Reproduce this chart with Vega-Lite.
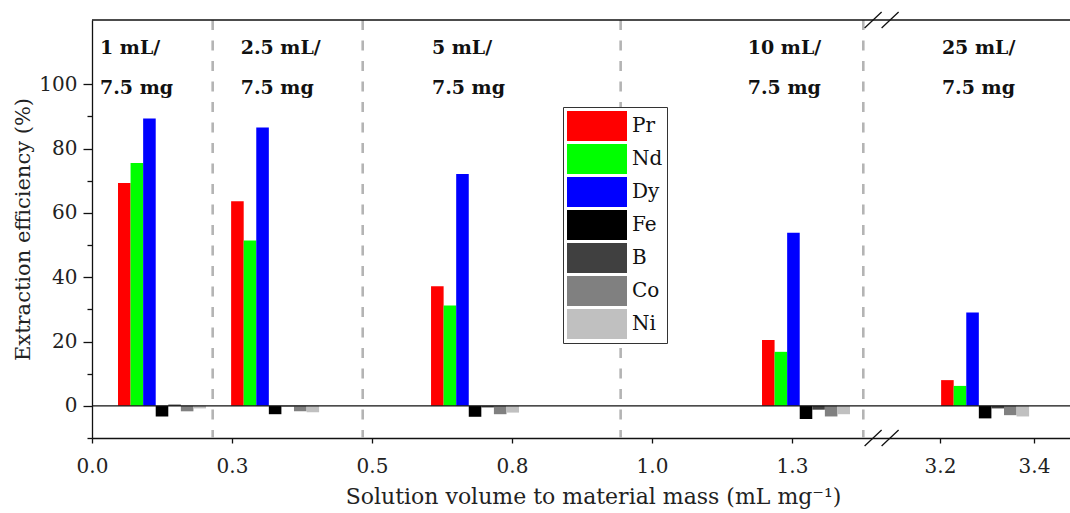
{
  "$schema": "https://vega.github.io/schema/vega-lite/v6.json",
  "width": 978,
  "height": 418,
  "autosize": {"type": "none"},
  "padding": {"left": 92, "top": 20, "right": 0, "bottom": 75},
  "background": "white",
  "config": {
    "view": {"stroke": null},
    "font": "DejaVu Serif",
    "axis": {
      "labelFont": "DejaVu Serif",
      "titleFont": "DejaVu Serif",
      "labelFontSize": 20,
      "titleFontSize": 21,
      "titleFontWeight": "normal",
      "labelColor": "#222",
      "titleColor": "#222",
      "domainColor": "#111",
      "tickColor": "#111",
      "domainWidth": 1.3,
      "tickWidth": 1.3,
      "grid": false
    }
  },
  "datasets": {
    "bars": [
      {"ratio": 0.125, "element": "Pr", "value": 69.3},
      {"ratio": 0.125, "element": "Nd", "value": 75.5},
      {"ratio": 0.125, "element": "Dy", "value": 89.4},
      {"ratio": 0.125, "element": "Fe", "value": -3.3},
      {"ratio": 0.125, "element": "B", "value": 0.4},
      {"ratio": 0.125, "element": "Co", "value": -1.7},
      {"ratio": 0.125, "element": "Ni", "value": -0.8},
      {"ratio": 0.327, "element": "Pr", "value": 63.6},
      {"ratio": 0.327, "element": "Nd", "value": 51.4},
      {"ratio": 0.327, "element": "Dy", "value": 86.6},
      {"ratio": 0.327, "element": "Fe", "value": -2.6},
      {"ratio": 0.327, "element": "B", "value": -0.2},
      {"ratio": 0.327, "element": "Co", "value": -1.7},
      {"ratio": 0.327, "element": "Ni", "value": -2.0},
      {"ratio": 0.684, "element": "Pr", "value": 37.2},
      {"ratio": 0.684, "element": "Nd", "value": 31.2},
      {"ratio": 0.684, "element": "Dy", "value": 72.1},
      {"ratio": 0.684, "element": "Fe", "value": -3.4},
      {"ratio": 0.684, "element": "B", "value": -0.5},
      {"ratio": 0.684, "element": "Co", "value": -2.6},
      {"ratio": 0.684, "element": "Ni", "value": -2.1},
      {"ratio": 1.275, "element": "Pr", "value": 20.5},
      {"ratio": 1.275, "element": "Nd", "value": 16.8},
      {"ratio": 1.275, "element": "Dy", "value": 53.8},
      {"ratio": 1.275, "element": "Fe", "value": -4.1},
      {"ratio": 1.275, "element": "B", "value": -1.2},
      {"ratio": 1.275, "element": "Co", "value": -3.3},
      {"ratio": 1.275, "element": "Ni", "value": -2.6},
      {"ratio": 3.296, "element": "Pr", "value": 8.0},
      {"ratio": 3.296, "element": "Nd", "value": 6.2},
      {"ratio": 3.296, "element": "Dy", "value": 29.0},
      {"ratio": 3.296, "element": "Fe", "value": -3.9},
      {"ratio": 3.296, "element": "B", "value": -0.8},
      {"ratio": 3.296, "element": "Co", "value": -2.9},
      {"ratio": 3.296, "element": "Ni", "value": -3.3}
    ],
    "seps": [
      {"ratio": 0.2155},
      {"ratio": 0.4834},
      {"ratio": 0.944},
      {"ratio": 1.3773}
    ],
    "refs": [
      {"value": 0},
      {"value": 120}
    ],
    "groups": [
      {"ratio": 0.0143, "value": 111.3, "label": "1 mL/\n7.5 mg"},
      {"ratio": 0.2655, "value": 111.3, "label": "2.5 mL/\n7.5 mg"},
      {"ratio": 0.607, "value": 111.3, "label": "5 mL/\n7.5 mg"},
      {"ratio": 1.171, "value": 111.3, "label": "10 mL/\n7.5 mg"},
      {"ratio": 3.204, "value": 111.3, "label": "25 mL/\n7.5 mg"}
    ],
    "breaks": [
      {"ratio": 1.41, "value": 120},
      {"ratio": 1.41, "value": -10}
    ]
  },
  "resolve": {"axis": {"y": "independent"}},
  "layer": [
    {
      "data": {"name": "seps"},
      "mark": {"type": "rule", "color": "#b4b4b4", "strokeWidth": 2.6, "strokeDash": [10, 10.5]},
      "encoding": {
        "x": {
          "field": "ratio", "type": "quantitative",
          "title": "Solution volume to material mass (mL mg⁻¹)",
          "scale": {"domain": [0, 1.4107, 3.0766, 3.4766], "range": [0, 790, 790, 978], "nice": false, "zero": false, "padding": 0}
        }
      }
    },
    {
      "data": {"name": "bars"},
      "encoding": {
        "x": {
          "field": "ratio", "type": "quantitative",
          "title": "Solution volume to material mass (mL mg⁻¹)",
          "scale": {"domain": [0, 1.4107, 3.0766, 3.4766], "range": [0, 790, 790, 978], "nice": false, "zero": false, "padding": 0},
          "axis": {
            "values": [0, 0.25, 0.5, 0.75, 1, 1.25, 3.2, 3.4],
            "format": ".1f",
            "tickSize": 5,
            "labelPadding": 13,
            "titlePadding": 10,
            "titleFontSize": 22,
            "titleX": 501,
            "labelFlush": false,
            "labelOverlap": false
          }
        },
        "y": {
          "field": "value", "type": "quantitative",
          "stack": null,
          "title": "Extraction efficiency (%)",
          "scale": {"domain": [-10, 120], "nice": false, "zero": false},
          "axis": {
            "orient": "left",
            "values": [0, 20, 40, 60, 80, 100],
            "tickSize": 9,
            "labelPadding": 6,
            "titlePadding": 5
          }
        },
        "color": {
          "field": "element", "type": "nominal",
          "scale": {
            "domain": ["Pr", "Nd", "Dy", "Fe", "B", "Co", "Ni"],
            "range": ["#ff0000", "#00ff00", "#0000ff", "#000000", "#404040", "#808080", "#c0c0c0"]
          },
          "legend": {
            "orient": "none",
            "legendX": 471,
            "legendY": 87,
            "title": null,
            "symbolType": "M-1,-1H3V1H-1Z",
            "symbolSize": 900,
            "symbolStrokeWidth": 0,
            "symbolOpacity": 1,
            "labelFont": "DejaVu Serif",
            "labelFontSize": 20,
            "labelColor": "#111",
            "labelOffset": 35,
            "rowPadding": 3,
            "padding": 4,
            "strokeColor": "#333",
            "fillColor": "white"
          }
        }
      },
      "layer": [
        {"transform": [{"filter": "datum.element === 'Pr'"}], "mark": {"type": "bar", "size": 12.57, "xOffset": -37.71}},
        {"transform": [{"filter": "datum.element === 'Nd'"}], "mark": {"type": "bar", "size": 12.57, "xOffset": -25.14}},
        {"transform": [{"filter": "datum.element === 'Dy'"}], "mark": {"type": "bar", "size": 12.57, "xOffset": -12.57}},
        {"transform": [{"filter": "datum.element === 'Fe'"}], "mark": {"type": "bar", "size": 12.57, "xOffset": 0}},
        {"transform": [{"filter": "datum.element === 'B'"}], "mark": {"type": "bar", "size": 12.57, "xOffset": 12.57}},
        {"transform": [{"filter": "datum.element === 'Co'"}], "mark": {"type": "bar", "size": 12.57, "xOffset": 25.14}},
        {"transform": [{"filter": "datum.element === 'Ni'"}], "mark": {"type": "bar", "size": 12.57, "xOffset": 37.71}}
      ]
    },
    {
      "data": {"name": "refs"},
      "mark": {"type": "rule", "color": "#111", "strokeWidth": 1.4},
      "encoding": {
        "y": {
          "field": "value", "type": "quantitative",
          "axis": null,
          "scale": {"domain": [-10, 120], "nice": false, "zero": false}
        }
      }
    },
    {
      "data": {"name": "breaks"},
      "mark": {"type": "point", "shape": "M-1,0.47L0,-0.47M0,0.47L1,-0.47", "size": 1156, "filled": false, "stroke": "#111", "strokeWidth": 1.3, "opacity": 1},
      "encoding": {
        "x": {
          "field": "ratio", "type": "quantitative",
          "title": "Solution volume to material mass (mL mg⁻¹)",
          "scale": {"domain": [0, 1.4107, 3.0766, 3.4766], "range": [0, 790, 790, 978], "nice": false, "zero": false, "padding": 0}
        },
        "y": {
          "field": "value", "type": "quantitative",
          "title": null,
          "scale": {"domain": [-10, 120], "nice": false, "zero": false},
          "axis": {
            "orient": "left",
            "values": [-10, 10, 30, 50, 70, 90],
            "labels": false,
            "domain": false,
            "ticks": true,
            "tickSize": 5,
            "title": null
          }
        }
      }
    },
    {
      "data": {"name": "groups"},
      "mark": {"type": "text", "align": "left", "baseline": "middle", "font": "DejaVu Serif", "fontSize": 19, "fontWeight": "bold", "lineBreak": "\n", "lineHeight": 40, "color": "#111"},
      "encoding": {
        "x": {
          "field": "ratio", "type": "quantitative",
          "title": "Solution volume to material mass (mL mg⁻¹)",
          "scale": {"domain": [0, 1.4107, 3.0766, 3.4766], "range": [0, 790, 790, 978], "nice": false, "zero": false, "padding": 0}
        },
        "y": {
          "field": "value", "type": "quantitative",
          "axis": null,
          "scale": {"domain": [-10, 120], "nice": false, "zero": false}
        },
        "text": {"field": "label"}
      }
    }
  ]
}
